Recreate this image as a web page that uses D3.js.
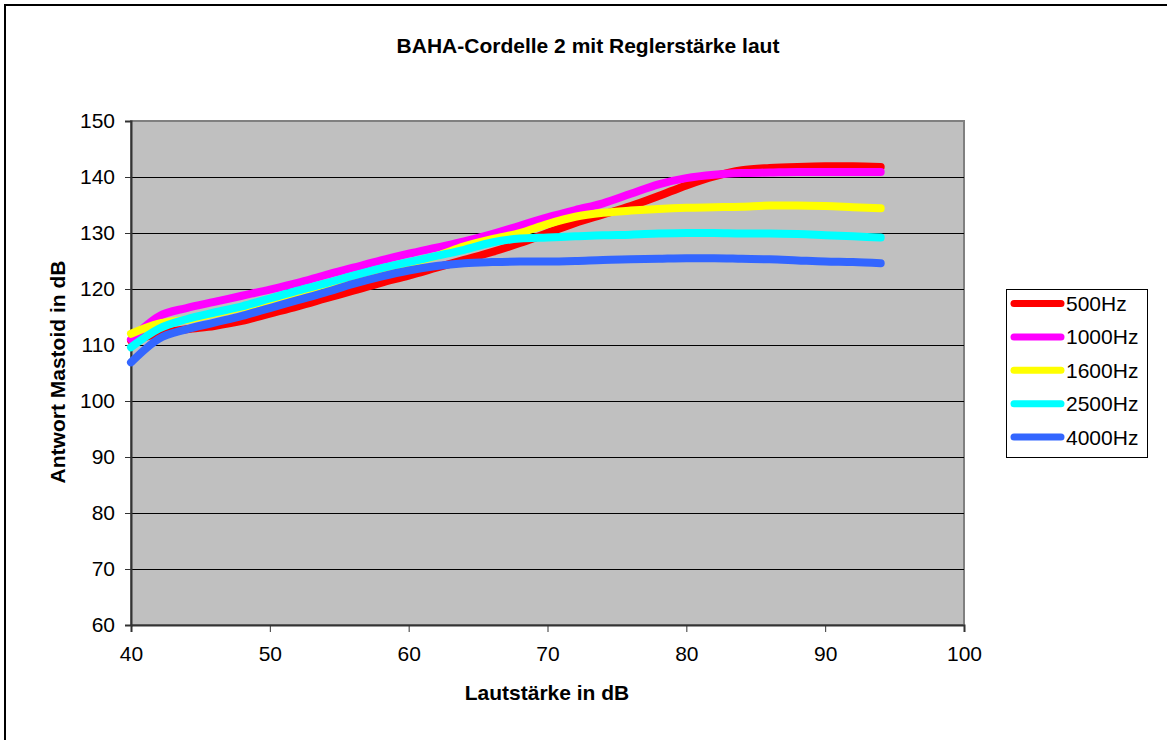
<!DOCTYPE html>
<html>
<head>
<meta charset="utf-8">
<script src="https://cdn.jsdelivr.net/npm/d3@7"></script>
<style>
  html, body { margin: 0; padding: 0; background: #ffffff; }
  svg { display: block; }
  text { font-family: "Liberation Sans", Arial, sans-serif; fill: #000; }
</style>
</head>
<body>
<svg id="chart" width="1167" height="740"></svg>
<script>
// Input level (dB) at which each response was measured
const levels = [40, 42, 44, 46, 48, 50, 52, 54, 56, 58, 60, 62, 64, 66,
                68, 70, 72, 74, 76, 78, 80, 82, 84, 86, 88, 90, 92, 94];

// Mastoid response (dB) per frequency
const hz500  = [110.8, 112.0, 112.8, 113.4, 114.3, 115.6, 116.9, 118.3, 119.7, 121.1, 122.4, 123.8, 125.2, 126.6,
                128.2, 130.0, 131.8, 133.3, 134.8, 136.6, 138.5, 140.1, 141.2, 141.6, 141.8, 141.9, 141.9, 141.8];
const hz1000 = [111.0, 115.1, 116.6, 117.7, 118.8, 119.9, 121.1, 122.5, 123.8, 125.1, 126.3, 127.4, 128.5, 129.8,
                131.3, 132.8, 134.1, 135.3, 137.0, 138.7, 139.8, 140.4, 140.7, 140.8, 140.9, 140.9, 140.9, 140.9];
const hz1600 = [112.0, 113.8, 114.5, 115.6, 116.7, 118.1, 119.5, 120.8, 122.2, 123.5, 124.6, 125.9, 127.6, 128.9,
                130.0, 131.6, 132.9, 133.6, 134.0, 134.3, 134.5, 134.6, 134.7, 134.9, 134.9, 134.8, 134.6, 134.4];
const hz2500 = [109.6, 112.9, 114.6, 115.8, 116.9, 118.3, 119.7, 121.0, 122.4, 123.7, 124.8, 125.9, 127.0, 128.3,
                129.0, 129.2, 129.4, 129.6, 129.7, 129.9, 130.0, 130.0, 129.9, 129.9, 129.8, 129.6, 129.4, 129.2];
const hz4000 = [106.9, 111.1, 112.8, 114.0, 115.2, 116.6, 118.0, 119.4, 120.9, 122.2, 123.3, 124.1, 124.6, 124.8,
                124.9, 124.9, 125.0, 125.2, 125.3, 125.4, 125.5, 125.5, 125.4, 125.3, 125.1, 124.9, 124.8, 124.6];

const seriesNames  = ["500Hz", "1000Hz", "1600Hz", "2500Hz", "4000Hz"];
const seriesValues = [hz500, hz1000, hz1600, hz2500, hz4000];
const seriesColors = ["#ff0000", "#ff00ff", "#ffff00", "#00ffff", "#3366ff"];

const xTicks = [40, 50, 60, 70, 80, 90, 100];
const yTicks = [60, 70, 80, 90, 100, 110, 120, 130, 140, 150];

const titleText = "BAHA-Cordelle 2 mit Reglerstärke laut";
const xTitle = "Lautstärke in dB";
const yTitle = "Antwort Mastoid in dB";

const svg = d3.select("#chart");

// outer chart frame
svg.append("rect")
  .attr("x", 5).attr("y", 5)
  .attr("width", 1180).attr("height", 760)
  .attr("fill", "#ffffff")
  .attr("stroke", "#000").attr("stroke-width", 2);

const plot = { left: 131, top: 121, right: 964, bottom: 625 };

const x = d3.scaleLinear().domain([40, 100]).range([plot.left, plot.right]);
const y = d3.scaleLinear().domain([60, 150]).range([plot.bottom, plot.top]);

// plot background
svg.append("rect")
  .attr("x", plot.left).attr("y", plot.top)
  .attr("width", plot.right - plot.left).attr("height", plot.bottom - plot.top)
  .attr("fill", "#c0c0c0")
  .attr("stroke", "#808080").attr("stroke-width", 2);

// horizontal gridlines
svg.append("g")
  .selectAll("line")
  .data(yTicks.filter(d => d > 60 && d < 150))
  .join("line")
  .attr("x1", plot.left).attr("x2", plot.right)
  .attr("y1", d => Math.round(y(d)) + 0.5).attr("y2", d => Math.round(y(d)) + 0.5)
  .attr("stroke", "#000").attr("stroke-width", 1);

// axes
const yAxis = d3.axisLeft(y).tickValues(yTicks).tickSize(6).tickPadding(10);
const gy = svg.append("g")
  .attr("transform", `translate(${plot.left},0)`)
  .call(yAxis);
gy.select(".domain").attr("stroke", "#333").attr("stroke-width", 2);
gy.selectAll(".tick line").attr("stroke", "#333");
gy.selectAll(".tick text")
  .attr("font-size", 21).attr("fill", "#000")
  .style("font-family", '"Liberation Sans", Arial, sans-serif');

const xAxis = d3.axisBottom(x).tickValues(xTicks).tickSize(7).tickPadding(14);
const gx = svg.append("g")
  .attr("transform", `translate(0,${plot.bottom})`)
  .call(xAxis);
gx.select(".domain").attr("stroke", "#333").attr("stroke-width", 2);
gx.selectAll(".tick line").attr("stroke", "#333");
gx.selectAll(".tick text")
  .attr("font-size", 21).attr("fill", "#000")
  .style("font-family", '"Liberation Sans", Arial, sans-serif');

// response curves
const line = d3.line()
  .x((d, i) => x(levels[i]))
  .y(d => y(d))
  .curve(d3.curveMonotoneX);

svg.append("g")
  .selectAll("path")
  .data(seriesValues)
  .join("path")
  .attr("d", d => line(d))
  .attr("fill", "none")
  .attr("stroke", (d, i) => seriesColors[i])
  .attr("stroke-width", 8)
  .attr("stroke-linecap", "round")
  .attr("stroke-linejoin", "round");

// titles
svg.append("text")
  .attr("x", 588).attr("y", 53)
  .attr("text-anchor", "middle")
  .attr("font-size", 21).attr("font-weight", "bold")
  .text(titleText);

svg.append("text")
  .attr("x", 547).attr("y", 700)
  .attr("text-anchor", "middle")
  .attr("font-size", 21).attr("font-weight", "bold")
  .text(xTitle);

svg.append("text")
  .attr("transform", "translate(65,372) rotate(-90)")
  .attr("text-anchor", "middle")
  .attr("font-size", 21).attr("font-weight", "bold")
  .text(yTitle);

// legend
const legend = svg.append("g");
legend.append("rect")
  .attr("x", 1006.5).attr("y", 289.5)
  .attr("width", 141).attr("height", 168)
  .attr("fill", "#ffffff")
  .attr("stroke", "#000").attr("stroke-width", 1);

const entries = legend.selectAll("g.entry")
  .data(seriesNames)
  .join("g")
  .attr("class", "entry")
  .attr("transform", (d, i) => `translate(0,${303.5 + i * 33.4})`);

entries.append("line")
  .attr("x1", 1014).attr("x2", 1061)
  .attr("y1", 0).attr("y2", 0)
  .attr("stroke", (d, i) => seriesColors[i])
  .attr("stroke-width", 7)
  .attr("stroke-linecap", "round");

entries.append("text")
  .attr("x", 1066).attr("y", 7.5)
  .attr("font-size", 21)
  .text(d => d);
</script>
</body>
</html>
